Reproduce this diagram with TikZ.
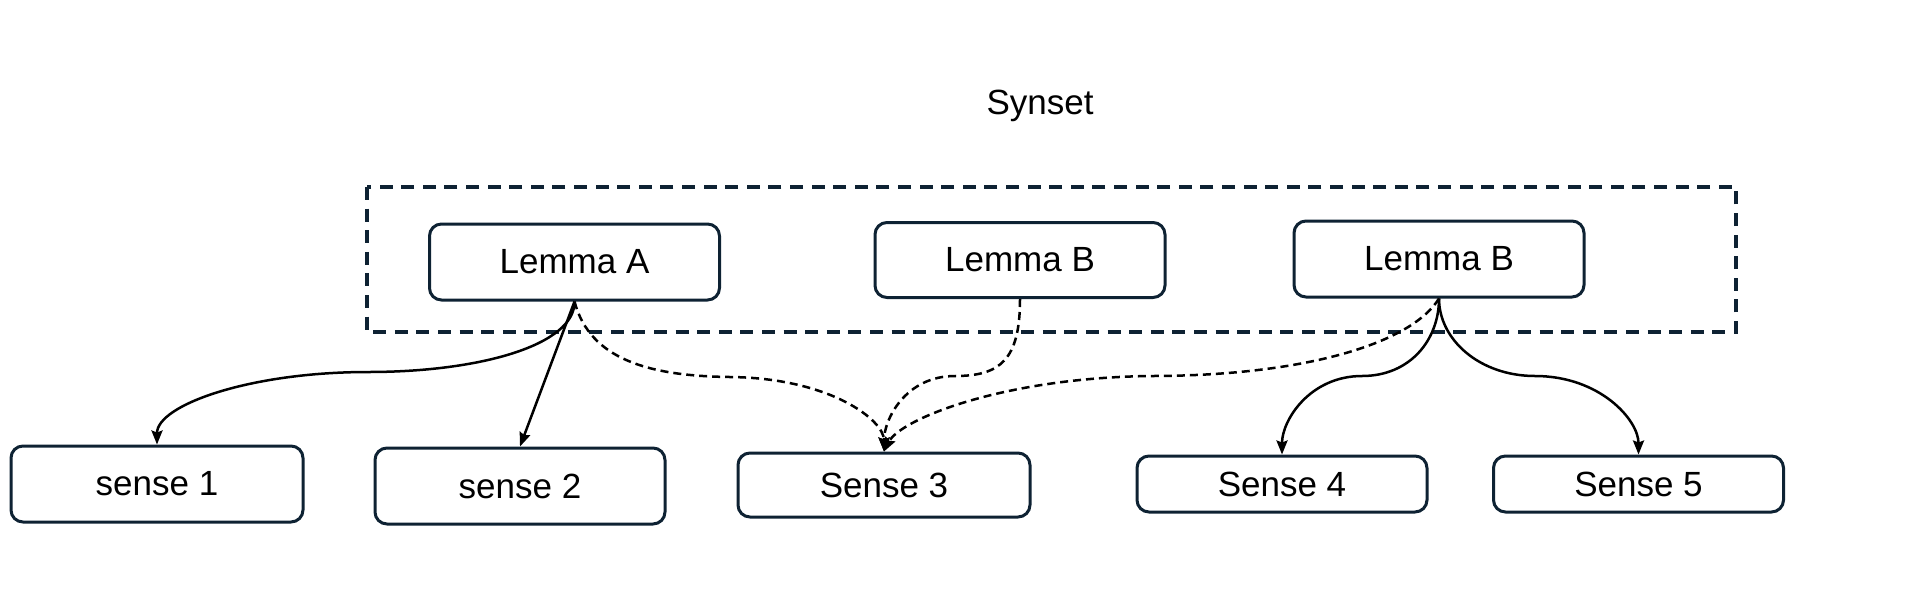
\documentclass[tikz,border=0pt]{standalone}
\usepackage{fontspec}
\setmainfont{Liberation Sans}
\usetikzlibrary{arrows.meta}
\definecolor{navy}{RGB}{14,34,51}
\begin{document}
\begin{tikzpicture}[x=0.5pt,y=-0.5pt,
  font=\fontsize{17.5}{21}\selectfont,
  box/.style={draw=navy, line width=1.5pt, rounded corners=6pt, inner sep=0pt, minimum width=145pt},
  conn/.style={draw=black, line width=1.25pt, -{Stealth[length=7pt,width=5.5pt,inset=1pt]}},
  dconn/.style={conn, dash pattern=on 4pt off 2.5pt},
  group/.style={draw=navy, line width=1.6pt, dash pattern=on 6.5pt off 4.3pt}]
\useasboundingbox (0,0) rectangle (1926,590);
\node (title) at (1040,106) {Synset};
\draw[group] (367,187) rectangle (1736,332);
\node[box, minimum height=38pt] (la) at (574.5,262) {Lemma A};
\node[box, minimum height=37.5pt] (lb1) at (1020,260) {Lemma B};
\node[box, minimum height=38pt] (lb2) at (1439,259) {Lemma B};
\node[box, minimum width=146pt, minimum height=38pt] (s1) at (157,484) {sense 1};
\node[box, minimum height=38pt] (s2) at (520,486) {sense 2};
\node[box, minimum width=146pt, minimum height=32pt] (s3) at (884,485) {Sense 3};
\node[box, minimum height=28pt] (s4) at (1282,484) {Sense 4};
\node[box, minimum height=28pt] (s5) at (1638.5,484) {Sense 5};
% Lemma A
\draw[conn] (la.south) .. controls (575,345) and (480,372) .. (368,372)
  .. controls (250,372) and (157,405) .. (s1.north);
\draw[conn] (la.south) -- (s2.north);
\draw[dconn] (la.south) .. controls (590,360) and (650,376) .. (730,377)
  .. controls (830,378) and (884,420) .. (s3.north);
% Lemma B (middle)
\draw[dconn] (lb1.south) .. controls (1020,360) and (1000,376) .. (955,376)
  .. controls (905,376) and (884,420) .. (s3.north);
% Lemma B (right)
\draw[dconn] (lb2.south) .. controls (1410,345) and (1300,376) .. (1150,376)
  .. controls (1000,378) and (900,420) .. (s3.north);
\draw[conn] (lb2.south) .. controls (1439,340) and (1410,376) .. (1362,376)
  .. controls (1310,376) and (1282,420) .. (s4.north);
\draw[conn] (lb2.south) .. controls (1439,340) and (1480,376) .. (1535,376)
  .. controls (1600,376) and (1638.5,420) .. (s5.north);
\end{tikzpicture}
\end{document}
